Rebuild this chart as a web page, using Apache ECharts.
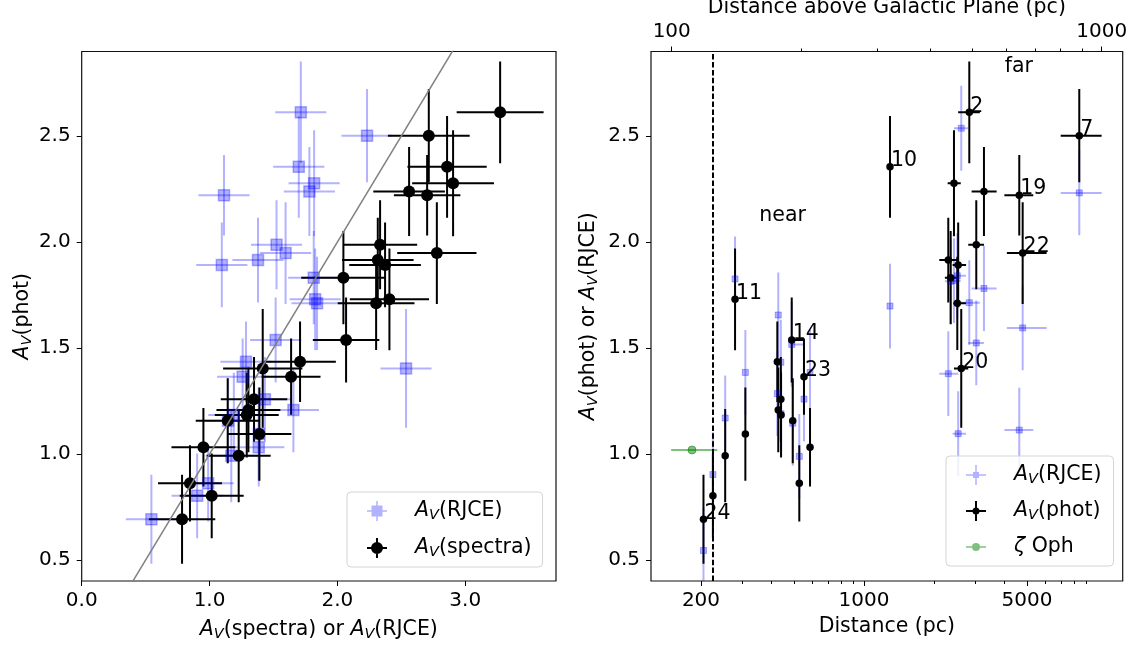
<!DOCTYPE html>
<html><head><meta charset="utf-8">
<script src="https://cdn.jsdelivr.net/npm/echarts@6/dist/echarts.min.js"></script>
<style>html,body{margin:0;padding:0;background:#fff}#c{width:1135px;height:649px}</style>
</head><body><div id="c"></div>
<script>
// ---- data (one entry per star, ordered by distance) ----
const dist    = [205,225,254,280,310,425,429,440,441,490,495,528,553,587,1293,2299,2354,2432,2513,2535,2613,2829,3031,3270,4634,4792,8380];
const distLo  = [205,225,254,280,310,425,429,440,441,490,495,528,553,587,1293,2104,2223,2285,2416,2400,2432,2535,2800,2895,4000,4100,6975];
const distHi  = [205,225,254,280,310,425,429,440,441,553,495,528,553,587,1293,2538,2496,2600,2738,2740,2800,3140,3270,3705,5320,6070,10450];
const photAv  = [0.692,0.803,0.992,1.730,1.094,1.435,1.208,1.258,1.184,1.538,1.157,0.862,1.365,1.032,2.355,1.915,1.832,2.277,1.711,1.892,1.404,2.612,1.987,2.239,2.221,1.948,2.502];
const photErr = [0.21,0.20,0.22,0.24,0.22,0.19,0.20,0.20,0.20,0.20,0.20,0.18,0.18,0.185,0.24,0.20,0.22,0.25,0.22,0.20,0.28,0.24,0.21,0.21,0.19,0.24,0.22];
const specAv  = [0.785,1.017,1.228,2.407,1.390,1.708,1.304,1.348,1.291,2.068,1.142,0.847,1.638,0.952,2.858,2.316,2.047,2.905,2.303,2.373,1.416,3.273,2.334,2.561,2.702,2.778,2.715];
const specErr = [0.26,0.25,0.25,0.31,0.25,0.28,0.25,0.26,0.25,0.26,0.25,0.25,0.23,0.25,0.31,0.28,0.33,0.32,0.30,0.28,0.31,0.34,0.29,0.28,0.26,0.31,0.32];
const rjceAv  = [0.545,0.903,1.170,1.826,1.385,1.285,1.656,1.433,1.190,1.517,1.145,0.989,1.259,1.385,1.698,1.379,1.815,1.818,1.841,1.096,2.537,1.714,1.524,1.781,1.113,1.595,2.232];
const rjceErr = [0.20,0.20,0.20,0.20,0.20,0.20,0.20,0.20,0.20,0.20,0.20,0.20,0.20,0.20,0.20,0.20,0.20,0.20,0.20,0.20,0.20,0.20,0.20,0.20,0.20,0.20,0.20];
const starLabel = ['24','','','11','','','','','','14','','','23','','10','','','','','','20','2','','','19','22','7'];
// zeta Oph
const zetaD = [183], zetaLo = [149], zetaHi = [235], zetaAv = [1.019];
// reference lines / annotations
const oneToOne = [0, 4];
const nearFarLimit = 224;
const regionText = ['near','far'], regionD = [356, 4020], regionAv = [2.095, 2.80];
// ticks
const leftXTicks = [0, 1, 2, 3];
const avTicks = [0.5, 1.0, 1.5, 2.0, 2.5];
const distMajor = [200, 1000, 5000];
const distMinor = [300,400,500,600,700,800,900,2000,3000,4000,6000,7000,8000,9000];
const zMajor = [100, 1000];
const zMinor = [200,300,400,500,600,700,800,900];

// ---- styling ----
const FONT = "'DejaVu Sans', sans-serif";
const BLUE = 'rgba(0,0,255,0.3)';
const GREEN = 'rgba(0,128,0,0.5)';
const FS = 20.5;
const rich = {
  a: {fontFamily: FONT, fontSize: FS, fontStyle: 'italic', color: '#000', lineHeight: 24},
  s: {fontFamily: FONT, fontSize: 14.5, fontStyle: 'italic', color: '#000', verticalAlign: 'bottom', lineHeight: 10},
  z: {fontFamily: FONT, fontSize: FS, fontStyle: 'italic', color: '#000', lineHeight: 24},
  g: {width: 23, lineHeight: 24}
};
const nameStyle = {fontFamily: FONT, fontSize: FS, color: '#000', lineHeight: 24, rich: rich};
const labStyle = {fontFamily: FONT, fontSize: 20, color: '#000'};

const G = [
  {left: 81.7, top: 51.5, width: 474.3, height: 529.5},
  {left: 651, top: 51.5, width: 471.7, height: 529.5}
];

function eb(xs, ys, xl, xh, yl, yh) {
  return xs.map((x, i) => [x, ys[i], xl[i], xh[i], yl[i], yh[i]]);
}
const minus = (a, e) => a.map((v, i) => v - e[i]);
const plus = (a, e) => a.map((v, i) => v + e[i]);

function ebSeries(xi, yi, data, color, width) {
  return {
    type: 'custom', xAxisIndex: xi, yAxisIndex: yi, data: data, clip: true, silent: true,
    encode: {x: 0, y: 1},
    renderItem: function (params, api) {
      const x = api.value(0), y = api.value(1);
      const p1 = api.coord([api.value(2), y]), p2 = api.coord([api.value(3), y]);
      const p3 = api.coord([x, api.value(4)]), p4 = api.coord([x, api.value(5)]);
      const style = {stroke: color, lineWidth: width, fill: null};
      const ch = [];
      if (Math.abs(p2[0] - p1[0]) > 0.5) ch.push({type: 'line', shape: {x1: p1[0], y1: p1[1], x2: p2[0], y2: p2[1]}, style: style});
      if (Math.abs(p4[1] - p3[1]) > 0.5) ch.push({type: 'line', shape: {x1: p3[0], y1: p3[1], x2: p4[0], y2: p4[1]}, style: style});
      return {type: 'group', children: ch};
    }
  };
}

function baseAxis(extra) {
  return Object.assign({
    splitLine: {show: false},
    axisLine: {show: false, onZero: false},
    axisTick: {show: true, length: 5, lineStyle: {color: '#000', width: 1}},
    axisLabel: {show: true, ...labStyle}
  }, extra);
}

function textSeries(xs, ys, texts, offX) {
  return {
    type: 'scatter', xAxisIndex: 1, yAxisIndex: 1, silent: true, symbolSize: 0.1,
    itemStyle: {color: 'rgba(0,0,0,0)', opacity: 1},
    data: xs.map((d, i) => ({value: [d, ys[i]], name: texts[i]})).filter(o => o.name !== ''),
    label: {show: true, position: [0, 0], align: 'left', verticalAlign: 'bottom', offset: [offX, 4],
      formatter: p => p.name, fontFamily: FONT, fontSize: FS, color: '#000', opacity: 1, lineHeight: 20,
      textBorderWidth: 0}
  };
}

const option = {
  animation: false,
  backgroundColor: '#fff',
  grid: G.map(g => Object.assign({show: true, borderColor: '#111', borderWidth: 1.2, backgroundColor: 'transparent',
    containLabel: false, outerBoundsMode: 'none'}, g)),
  xAxis: [
    baseAxis({type: 'value', gridIndex: 0, min: 0, max: 3.71, position: 'bottom',
      axisTick: {show: true, length: 5, customValues: leftXTicks, lineStyle: {color: '#000'}},
      axisLabel: {...labStyle, margin: 10, customValues: leftXTicks, formatter: v => Number(v).toFixed(1)},
      name: '{a|A}{s|V}(spectra) or {a|A}{s|V}(RJCE)', nameLocation: 'middle', nameGap: 37, nameTextStyle: nameStyle, nameMoveOverlap: false}),
    baseAxis({type: 'log', logBase: 10, gridIndex: 1, min: 122.1, max: 12867, position: 'bottom',
      axisTick: {show: true, length: 5, customValues: distMajor, lineStyle: {color: '#000'}},
      axisLabel: {...labStyle, margin: 10, customValues: distMajor, formatter: v => String(Math.round(v))},
      name: 'Distance (pc)', nameLocation: 'middle', nameGap: 34, nameTextStyle: nameStyle, nameMoveOverlap: false}),
    baseAxis({type: 'log', logBase: 10, gridIndex: 1, min: 122.1, max: 12867, position: 'bottom',
      axisTick: {show: true, length: 3, customValues: distMinor, lineStyle: {color: '#000'}},
      axisLabel: {show: false}}),
    baseAxis({type: 'log', logBase: 10, gridIndex: 1, min: 89.5, max: 1119.06, position: 'top',
      axisTick: {show: true, length: 5, customValues: zMajor, lineStyle: {color: '#000'}},
      axisLabel: {...labStyle, margin: 10, customValues: zMajor, formatter: v => String(Math.round(v))},
      name: 'Distance above Galactic Plane (pc)', nameLocation: 'middle', nameGap: 32, nameTextStyle: nameStyle, nameMoveOverlap: false}),
    baseAxis({type: 'log', logBase: 10, gridIndex: 1, min: 89.5, max: 1119.06, position: 'top',
      axisTick: {show: true, length: 3, customValues: zMinor, lineStyle: {color: '#000'}},
      axisLabel: {show: false}})
  ],
  yAxis: [
    baseAxis({type: 'value', gridIndex: 0, min: 0.401, max: 2.899,
      axisTick: {show: true, length: 5, customValues: avTicks, lineStyle: {color: '#000'}},
      axisLabel: {...labStyle, margin: 11, customValues: avTicks, formatter: v => Number(v).toFixed(1)},
      name: '{a|A}{s|V}(phot)', nameLocation: 'middle', nameRotate: 90, nameGap: 47, nameTextStyle: nameStyle, nameMoveOverlap: false}),
    baseAxis({type: 'value', gridIndex: 1, min: 0.401, max: 2.899,
      axisTick: {show: true, length: 5, customValues: avTicks, lineStyle: {color: '#000'}},
      axisLabel: {...labStyle, margin: 11, customValues: avTicks, formatter: v => Number(v).toFixed(1)},
      name: '{a|A}{s|V}(phot) or {a|A}{s|V}(RJCE)', nameLocation: 'middle', nameRotate: 90, nameGap: 50, nameTextStyle: nameStyle, nameMoveOverlap: false})
  ],
  legend: [
    {
      show: true, orient: 'vertical', left: 347, top: 492, selectedMode: false,
      padding: [7, 11, 7, 20], itemWidth: 20, itemHeight: 20, itemGap: 13,
      borderColor: '#d5d5d5', borderWidth: 1, borderRadius: 4, backgroundColor: 'rgba(255,255,255,0.8)',
      textStyle: {fontFamily: FONT, fontSize: FS, color: '#000', lineHeight: 24, rich: rich},
      formatter: n => ({L_rjce: '{g| }{a|A}{s|V}(RJCE)', L_spec: '{g| }{a|A}{s|V}(spectra)'})[n],
      data: [
        {name: 'L_rjce', icon: 'path://M9.25 0h1.5v20h-1.5z M0 9.25h20v1.5H0z M4.5 4.5h11v11h-11z', itemStyle: {color: BLUE, borderWidth: 0}},
        {name: 'L_spec', icon: 'path://M9 0h2v20h-2z M0 9h20v2H0z M4 10a6 6 0 1 1 12 0a6 6 0 1 1 -12 0z', itemStyle: {color: '#000', borderWidth: 0}}
      ]
    },
    {
      show: true, orient: 'vertical', left: 946, top: 456, selectedMode: false,
      padding: [7, 12, 7, 20], itemWidth: 20, itemHeight: 20, itemGap: 12,
      borderColor: '#d5d5d5', borderWidth: 1, borderRadius: 4, backgroundColor: 'rgba(255,255,255,0.8)',
      textStyle: {fontFamily: FONT, fontSize: FS, color: '#000', lineHeight: 24, rich: rich},
      formatter: n => ({R_rjce: '{g| }{a|A}{s|V}(RJCE)', R_phot: '{g| }{a|A}{s|V}(phot)', R_zeta: '{g| }{z|ζ} Oph'})[n],
      data: [
        {name: 'R_rjce', icon: 'path://M9.25 0h1.5v20h-1.5z M0 9.25h20v1.5H0z M7 7h6v6h-6z', itemStyle: {color: BLUE, borderWidth: 0}},
        {name: 'R_phot', icon: 'path://M9 0h2v20h-2z M0 9h20v2H0z M6.5 10a3.5 3.5 0 1 1 7 0a3.5 3.5 0 1 1 -7 0z', itemStyle: {color: '#000', borderWidth: 0}},
        {name: 'R_zeta', icon: 'path://M10 0h0.01v0.01h-0.01z M10 19.99h0.01v0.01h-0.01z M0 9.25h20v1.5H0z M6 10a4 4 0 1 1 8 0a4 4 0 1 1 -8 0z', itemStyle: {color: GREEN, borderWidth: 0}}
      ]
    }
  ],
  series: [
    // left panel
    {type: 'line', xAxisIndex: 0, yAxisIndex: 0, data: oneToOne.map(v => [v, v]), symbol: 'none', silent: true, clip: true,
      lineStyle: {color: '#808080', width: 1.5}},
    ebSeries(0, 0, eb(rjceAv, photAv, minus(rjceAv, rjceErr), plus(rjceAv, rjceErr), minus(photAv, photErr), plus(photAv, photErr)), BLUE, 2),
    {type: 'scatter', name: 'L_rjce', xAxisIndex: 0, yAxisIndex: 0, silent: true, symbol: 'rect', symbolSize: 11,
      data: rjceAv.map((v, i) => [v, photAv[i]]),
      itemStyle: {color: BLUE, borderColor: BLUE, borderWidth: 1.5, opacity: 1}},
    ebSeries(0, 0, eb(specAv, photAv, minus(specAv, specErr), plus(specAv, specErr), minus(photAv, photErr), plus(photAv, photErr)), '#000', 2),
    {type: 'scatter', name: 'L_spec', xAxisIndex: 0, yAxisIndex: 0, silent: true, symbol: 'circle', symbolSize: 12,
      data: specAv.map((v, i) => [v, photAv[i]]),
      itemStyle: {color: '#000', opacity: 1}},
    // right panel
    {type: 'line', xAxisIndex: 1, yAxisIndex: 1, data: [], silent: true,
      markLine: {silent: true, symbol: 'none', label: {show: false}, data: [{xAxis: nearFarLimit}],
        lineStyle: {color: '#000', width: 2, type: [5.5, 2.4]}}},
    ebSeries(1, 1, eb(dist, rjceAv, distLo, distHi, minus(rjceAv, rjceErr), plus(rjceAv, rjceErr)), BLUE, 2),
    {type: 'scatter', name: 'R_rjce', xAxisIndex: 1, yAxisIndex: 1, silent: true, symbol: 'rect', symbolSize: 6,
      data: dist.map((d, i) => [d, rjceAv[i]]),
      itemStyle: {color: BLUE, borderColor: BLUE, borderWidth: 1, opacity: 1}},
    ebSeries(1, 1, eb(dist, photAv, distLo, distHi, minus(photAv, photErr), plus(photAv, photErr)), '#000', 2),
    {type: 'scatter', name: 'R_phot', xAxisIndex: 1, yAxisIndex: 1, silent: true, symbol: 'circle', symbolSize: 7.5,
      data: dist.map((d, i) => [d, photAv[i]]),
      itemStyle: {color: '#000', opacity: 1}},
    ebSeries(1, 1, eb(zetaD, zetaAv, zetaLo, zetaHi, zetaAv, zetaAv), GREEN, 2),
    {type: 'scatter', name: 'R_zeta', xAxisIndex: 1, yAxisIndex: 1, silent: true, symbol: 'circle', symbolSize: 8,
      data: zetaD.map((d, i) => [d, zetaAv[i]]),
      itemStyle: {color: GREEN, borderColor: GREEN, borderWidth: 1, opacity: 1}},
    // star number labels and near / far text
    textSeries(dist, photAv, starLabel, 1),
    textSeries(regionD, regionAv, regionText, 0)
  ]
};

const chart = echarts.init(document.getElementById('c'), null, {renderer: 'canvas'});
chart.setOption(option);
</script>
</body></html>
